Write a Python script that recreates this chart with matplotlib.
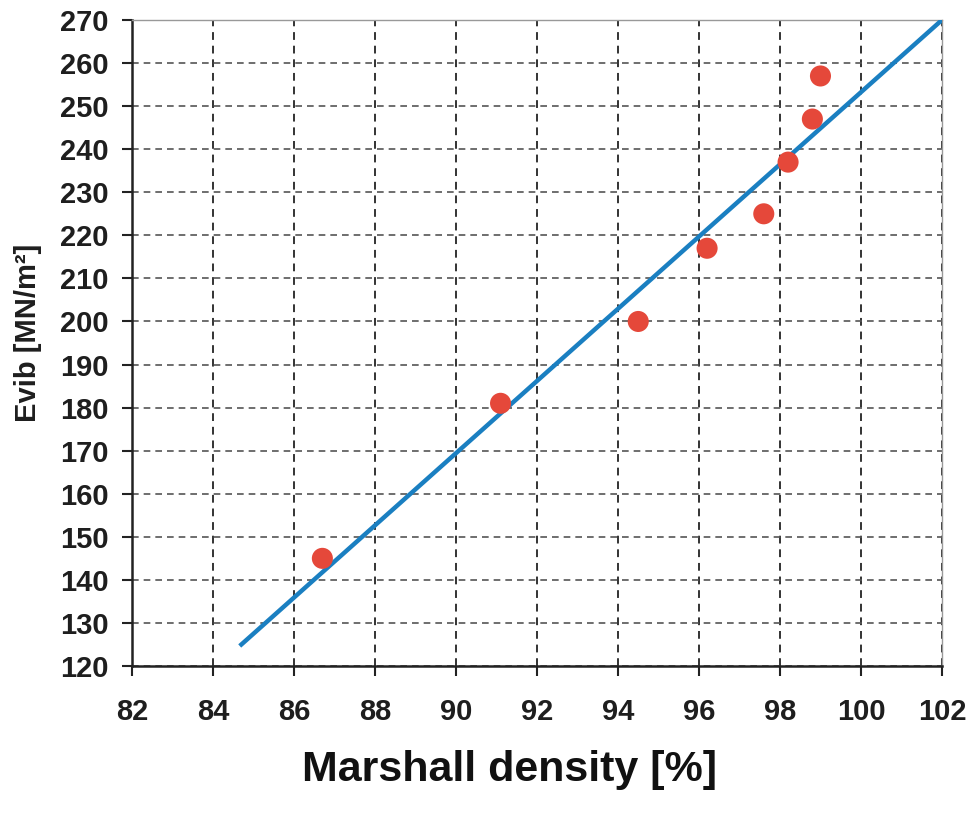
import numpy as np
import matplotlib.pyplot as plt

plt.rcParams['font.family'] = ['Liberation Sans', 'DejaVu Sans']

density = [86.7, 91.1, 94.5, 96.2, 97.6, 98.2, 98.8, 99.0]
evib = [145, 181, 200, 217, 225, 237, 247, 257]

fit_x = [84.7, 102.0]
fit_y = [125.0, 270.0]

xticks = np.arange(82, 103, 2)
yticks = np.arange(120, 271, 10)

fig = plt.figure(figsize=(9.68, 8.16), dpi=100)
ax = fig.add_axes([0.1364, 0.1838, 0.8367, 0.7917])

ax.grid(True, axis='x', linestyle=(0, (4, 3)), color='#333333', linewidth=1.4)
ax.grid(True, axis='y', linestyle=(0, (4, 3)), color='#555555', linewidth=1.2)
ax.set_axisbelow(True)

ax.plot(fit_x, fit_y, color='#1a7fc1', linewidth=3.2, zorder=3)
ax.scatter(density, evib, s=230, color='#e5483a', edgecolors='none', zorder=4)

ax.set_xlim(82, 102)
ax.set_ylim(120, 270)
ax.set_xticks(xticks)
ax.set_yticks(yticks)

for s in ['left', 'bottom']:
    ax.spines[s].set_color('#222222')
    ax.spines[s].set_linewidth(1.8)
for s in ['top', 'right']:
    ax.spines[s].set_color('#999999')
    ax.spines[s].set_linewidth(1.0)

ax.tick_params(axis='both', direction='out', length=7, width=1.5, color='#222222',
               labelsize=21, labelcolor='#1e1e1e')
ax.tick_params(axis='x', pad=16)
ax.tick_params(axis='y', pad=10)
for lab in ax.get_xticklabels() + ax.get_yticklabels():
    lab.set_fontweight('bold')

fig.text(0.029, 0.592, 'Evib [MN/m²]', fontsize=21, fontweight='bold', rotation=90,
         ha='center', va='center', color='#1e1e1e')
fig.text(0.526, 0.056, 'Marshall density [%]', fontsize=31, fontweight='bold',
         ha='center', va='center', color='#111111')

fig.savefig('out.png', dpi=100)
